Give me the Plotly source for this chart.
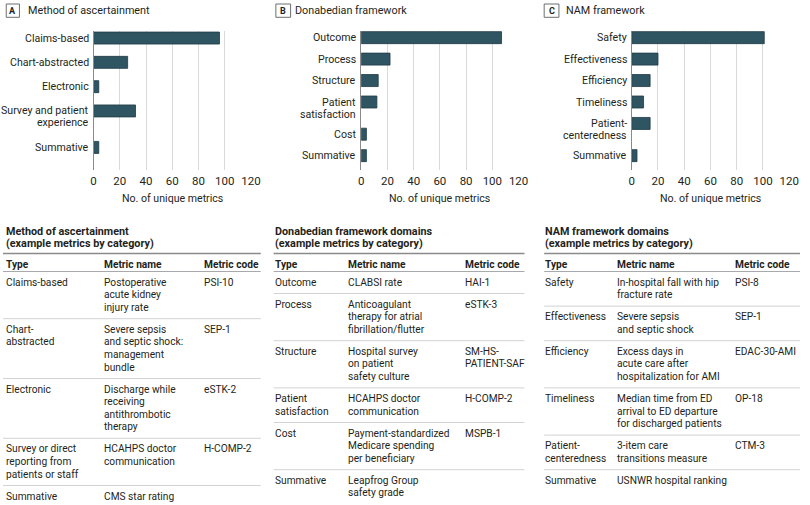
import plotly.graph_objects as go

# ---------------- data ----------------
A_cats = ["Claims-based", "Chart-abstracted", "Electronic", "Survey and patient<br>experience", "Summative"]
A_vals = [96, 26, 4, 32, 4]
B_cats = ["Outcome", "Process", "Structure", "Patient<br>satisfaction", "Cost", "Summative"]
B_vals = [107, 22, 13, 12, 4, 4]
C_cats = ["Safety", "Effectiveness", "Efficiency", "Timeliness", "Patient-<br>centeredness", "Summative"]
C_vals = [101, 20, 14, 9, 14, 4]
x_ticks = [0, 20, 40, 60, 80, 100, 120]

panel_titles = ["Method of ascertainment", "Donabedian framework", "NAM framework"]
panel_letters = ["A", "B", "C"]
x_title = "No. of unique metrics"

table_titles = [
    ["Method of ascertainment", "(example metrics by category)"],
    ["Donabedian framework domains", "(example metrics by category)"],
    ["NAM framework domains", "(example metrics by category)"],
]
headers = ["Type", "Metric name", "Metric code"]

A_types = ["Claims-based", "Chart-<br>abstracted", "Electronic",
           "Survey or direct<br>reporting from<br>patients or staff", "Summative"]
A_names = ["Postoperative<br>acute kidney<br>injury rate",
           "Severe sepsis<br>and septic shock:<br>management<br>bundle",
           "Discharge while<br>receiving<br>antithrombotic<br>therapy",
           "HCAHPS doctor<br>communication", "CMS star rating"]
A_codes = ["PSI-10", "SEP-1", "eSTK-2", "H-COMP-2", ""]

B_types = ["Outcome", "Process", "Structure", "Patient<br>satisfaction", "Cost", "Summative"]
B_names = ["CLABSI rate", "Anticoagulant<br>therapy for atrial<br>fibrillation/flutter",
           "Hospital survey<br>on patient<br>safety culture", "HCAHPS doctor<br>communication",
           "Payment-standardized<br>Medicare spending<br>per beneficiary", "Leapfrog Group<br>safety grade"]
B_codes = ["HAI-1", "eSTK-3", "SM-HS-<br>PATIENT-SAF", "H-COMP-2", "MSPB-1", ""]

C_types = ["Safety", "Effectiveness", "Efficiency", "Timeliness", "Patient-<br>centeredness", "Summative"]
C_names = ["In-hospital fall with hip<br>fracture rate", "Severe sepsis<br>and septic shock",
           "Excess days in<br>acute care after<br>hospitalization for AMI",
           "Median time from ED<br>arrival to ED departure<br>for discharged patients",
           "3-item care<br>transitions measure", "USNWR hospital ranking"]
C_codes = ["PSI-8", "SEP-1", "EDAC-30-AMI", "OP-18", "CTM-3", ""]

# ---------------- layout helpers ----------------
W, H = 810, 505
FONT = "Roboto, Liberation Sans, sans-serif"
TXT = "#231f20"
BAR = "#2f5562"
BAR_LINE = "#1e3a44"


def X(px):
    return px / W


def Y(py):
    return 1 - py / H


def slot_positions(labels):
    out, p = [], 0.0
    for lab in labels:
        out.append(p)
        p += 1 + 0.5 * lab.count("<br>")
    return out


fig = go.Figure()
annotations = []
shapes = []

PLOT_TOP, PLOT_BOT = 31, 170
LABEL_FS = 10.6
panels = [
    dict(cats=A_cats, vals=A_vals, x0=92, x1=252, rng=[5.43, -0.29], box=(3.3, 16.7), tx=25),
    dict(cats=B_cats, vals=B_vals, x0=364, x1=524, rng=[6.17, -0.31], box=(277.3, 292.3), tx=297),
    dict(cats=C_cats, vals=C_vals, x0=639, x1=799, rng=[6.17, -0.31], box=(550, 565), tx=572),
]

for i, p in enumerate(panels):
    n = "" if i == 0 else str(i + 1)
    pos = slot_positions(p["cats"])
    px_per_slot = (PLOT_BOT - PLOT_TOP) / (p["rng"][0] - p["rng"][1])
    barw = 12 / px_per_slot
    lineoff = 12 / px_per_slot
    fig.add_trace(go.Bar(
        x=p["vals"], y=pos, orientation="h", width=barw,
        marker=dict(color=BAR, line=dict(color=BAR_LINE, width=0.8)),
        xaxis="x" + n, yaxis="y" + n, showlegend=False, hoverinfo="x",
    ))
    fig.update_layout(**{
        "xaxis" + n: dict(domain=[X(p["x0"]), X(p["x1"])], range=[0, 120], tickvals=x_ticks,
                          showgrid=True, gridcolor="#d9d9d9", gridwidth=1, zeroline=False,
                          showline=False, ticks="", anchor="y" + n, ticklabelstandoff=2,
                          tickfont=dict(size=11.5, color=TXT, family=FONT)),
        "yaxis" + n: dict(domain=[Y(PLOT_BOT), Y(PLOT_TOP)], range=p["rng"], showgrid=False,
                          showticklabels=False, zeroline=False, showline=True,
                          linecolor="#8a8a8a", linewidth=1, ticks="", anchor="x" + n),
    })
    # category labels (line by line, first line aligned with bar)
    for cat, yv in zip(p["cats"], pos):
        for k, line in enumerate(cat.split("<br>")):
            annotations.append(dict(
                x=0, y=yv + k * lineoff, xref="x" + n, yref="y" + n, text=line,
                xanchor="right", yanchor="middle", xshift=-3, showarrow=False,
                font=dict(size=LABEL_FS, color=TXT, family=FONT)))
    # x axis title
    annotations.append(dict(
        x=X((p["x0"] + p["x1"]) / 2), y=Y(198), xref="paper", yref="paper", text=x_title,
        xanchor="center", yanchor="middle", showarrow=False,
        font=dict(size=LABEL_FS, color=TXT, family=FONT)))
    # panel letter box and title
    b0, b1 = p["box"]
    shapes.append(dict(type="rect", xref="paper", yref="paper", x0=X(b0), x1=X(b1),
                       y0=Y(17.3), y1=Y(4), line=dict(color="#6d6e71", width=1),
                       fillcolor="white"))
    annotations.append(dict(
        x=X((b0 + b1) / 2), y=Y(10.8), xref="paper", yref="paper", text="<b>%s</b>" % panel_letters[i],
        xanchor="center", yanchor="middle", showarrow=False,
        font=dict(size=9, color=TXT, family=FONT)))
    annotations.append(dict(
        x=X(p["tx"]), y=Y(10.8), xref="paper", yref="paper", text=panel_titles[i],
        xanchor="left", yanchor="middle", showarrow=False, xshift=-2,
        font=dict(size=10.8, color=TXT, family=FONT)))

# ---------------- tables ----------------
tables = [
    dict(rows=(A_types, A_names, A_codes), x0=0, x1=262, cols=[3, 103, 204]),
    dict(rows=(B_types, B_names, B_codes), x0=275, x1=530, cols=[276, 351, 470]),
    dict(rows=(C_types, C_names, C_codes), x0=550, x1=810, cols=[551, 624, 744]),
]
L = 12.6
TFS = 10.2


def text_ann(x, y, s, bold=False, size=TFS):
    return dict(x=X(x), y=Y(y), xref="paper", yref="paper",
                text=("<b>%s</b>" % s) if bold else s,
                xanchor="left", yanchor="middle", showarrow=False, xshift=-2,
                font=dict(size=size, color=TXT, family=FONT))


for t, tt in zip(tables, table_titles):
    annotations.append(text_ann(t["cols"][0], 231.7, tt[0], bold=True, size=10.8))
    annotations.append(text_ann(t["cols"][0], 243.2, tt[1], bold=True, size=10.8))
    shapes.append(dict(type="line", xref="paper", yref="paper", x0=X(t["x0"]), x1=X(t["x1"]),
                       y0=Y(253.5), y1=Y(253.5), line=dict(color="#8a8a8a", width=1.6)))
    for cx, h in zip(t["cols"], headers):
        annotations.append(text_ann(cx, 264, h, bold=True))
    rule = 271.5
    shapes.append(dict(type="line", xref="paper", yref="paper", x0=X(t["x0"]), x1=X(t["x1"]),
                       y0=Y(rule), y1=Y(rule), line=dict(color="#a7a9ac", width=1)))
    types, names, codes = t["rows"]
    nrows = len(types)
    for r in range(nrows):
        cells = [types[r], names[r], codes[r]]
        nl = max(c.count("<br>") + 1 for c in cells)
        for cx, c in zip(t["cols"], cells):
            if not c:
                continue
            for k, line in enumerate(c.split("<br>")):
                annotations.append(text_ann(cx, rule + 10.5 + k * L, line))
        rule = rule + (nl - 1) * L + 22
        if r < nrows - 1:
            shapes.append(dict(type="line", xref="paper", yref="paper", x0=X(t["x0"]), x1=X(t["x1"]),
                               y0=Y(rule), y1=Y(rule), line=dict(color="#d1d3d4", width=1)))

fig.update_layout(
    width=W, height=H, margin=dict(l=0, r=0, t=0, b=0),
    paper_bgcolor="white", plot_bgcolor="white",
    annotations=annotations, shapes=shapes, bargap=0.5,
    font=dict(family=FONT, color=TXT),
)

fig.write_html("out.html", config={"displayModeBar": False},
               post_script="document.body.style.margin='0px';document.body.style.overflow='hidden';")
